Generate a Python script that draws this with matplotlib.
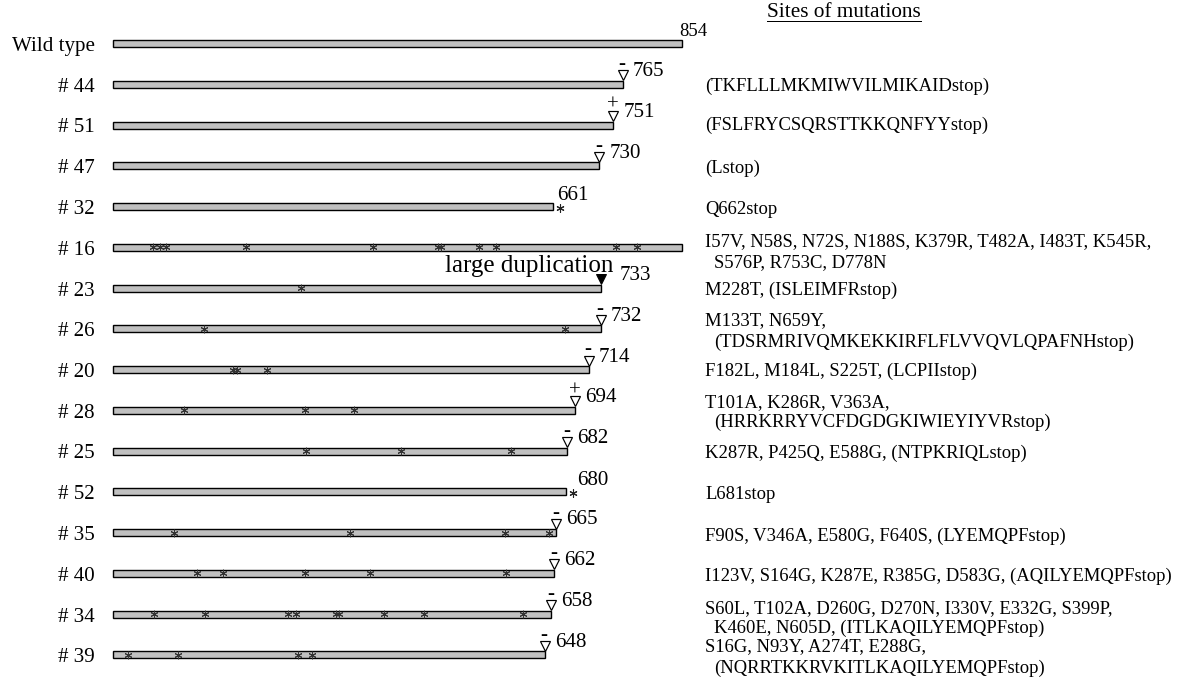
import matplotlib.pyplot as plt
from matplotlib.transforms import offset_copy

plt.rcParams['font.family'] = ['Liberation Serif', 'DejaVu Serif']

# clones, top to bottom
clones = ['Wild type', '# 44', '# 51', '# 47', '# 32', '# 16', '# 23', '# 26',
          '# 20', '# 28', '# 25', '# 52', '# 35', '# 40', '# 34', '# 39']
# protein length (residues)
lengths = [854, 765, 751, 730, 661, 854, 733, 732, 714, 694, 682, 680, 665, 662, 658, 648]
# how the end is marked: '' nothing, '-'/'+' frameshift, '*' stop, 'dup' duplication
end_marks = ['', '-', '+', '-', '*', '', 'dup', '-', '-', '+', '-', '*', '-', '-', '-', '-']
end_labels = ['854', '765', '751', '730', '661', '', '733', '732', '714', '694',
              '682', '680', '665', '662', '658', '648']
# asterisks on the bars, as drawn in the figure (residue position)
point_marks = [
    [], [], [], [], [],
    [60, 70, 80, 199, 390, 488, 492, 549, 575, 755, 787],
    [282],
    [136, 678],
    [180, 186, 231],
    [106, 288, 361],
    [289, 432, 597],
    [],
    [91, 356, 588, 655],
    [126, 165, 288, 386, 590],
    [61, 138, 262, 274, 334, 339, 406, 467, 615],
    [23, 97, 278, 298],
]
mutations = [
    '',
    '(TKFLLLMKMIWVILMIKAIDstop)',
    '(FSLFRYCSQRSTTKKQNFYYstop)',
    '(Lstop)',
    'Q662stop',
    'I57V, N58S, N72S, N188S, K379R, T482A, I483T, K545R,\nS576P, R753C, D778N',
    'M228T, (ISLEIMFRstop)',
    'M133T, N659Y,\n(TDSRMRIVQMKEKKIRFLFLVVQVLQPAFNHstop)',
    'F182L, M184L, S225T, (LCPIIstop)',
    'T101A, K286R, V363A,\n(HRRKRRYVCFDGDGKIWIEYIYVRstop)',
    'K287R, P425Q, E588G, (NTPKRIQLstop)',
    'L681stop',
    'F90S, V346A, E580G, F640S, (LYEMQPFstop)',
    'I123V, S164G, K287E, R385G, D583G, (AQILYEMQPFstop)',
    'S60L, T102A, D260G, D270N, I330V, E332G, S399P,\nK460E, N605D, (ITLKAQILYEMQPFstop)',
    'S16G, N93Y, A274T, E288G,\n(NQRRTKKRVKITLKAQILYEMQPFstop)',
]
# baseline of first text line below the bar centre (px) and line step
note_dy = [0, 7, 5, 7, 8, -1, 7, -4, 6, -3, 7, 7, 8, 8, -1, -4]
note_step = [21, 21, 21, 21, 21, 21, 21, 22, 21, 20, 21, 21, 21, 21, 20, 22]

DPI = 72
W, H = 1182, 678
fig = plt.figure(figsize=(W / DPI, H / DPI), dpi=DPI)
ax = fig.add_axes([0, 0, 1, 1])
ax.axis('off')

x0 = 113
px_per_res = (682 - x0) / 854
ax.set_xlim(-x0 / px_per_res, (W - x0) / px_per_res)
y0, row_px = 43.5, 40.75
ax.set_ylim((H - y0) / row_px, -y0 / row_px)

bar_h = 7 / row_px
full = max(lengths)

for i, name in enumerate(clones):
    L = lengths[i]
    ax.barh(i, L, height=bar_h, color='#c0c0c0', edgecolor='black', linewidth=1.4, zorder=2)
    ax.annotate(name, (0, i), xytext=(-18, -7.5), textcoords='offset points',
                ha='right', va='baseline', fontsize=21)

    pts = point_marks[i]
    if pts:
        ax.plot(pts, [i] * len(pts), ls='none', marker=(6, 2, 0), ms=7.5,
                mec='#333333', mew=1.0, zorder=3)

    mark = end_marks[i]
    if mark in ('-', '+'):
        tr = offset_copy(ax.transData, fig=fig, x=0, y=9, units='points')
        ax.plot([L], [i], marker='v', ms=10.5, mfc='white', mec='black', mew=1.2,
                transform=tr, zorder=4, clip_on=False)
        ax.annotate(mark, (L, i), xytext=(-0.5, 15), textcoords='offset points',
                    ha='center', va='baseline', fontsize=21)
        ax.annotate(end_labels[i], (L, i), xytext=(10, 8), textcoords='offset points',
                    ha='left', va='baseline', fontsize=21)
    elif mark == '*':
        tr = offset_copy(ax.transData, fig=fig, x=7, y=-1.5, units='points')
        ax.plot([L], [i], marker=(6, 2, 0), ms=8, mec='#222222', mew=1.1,
                transform=tr, zorder=4, clip_on=False)
        dx = 4 if i == 4 else 11
        ax.annotate(end_labels[i], (L, i), xytext=(dx, 7), textcoords='offset points',
                    ha='left', va='baseline', fontsize=21)
    elif mark == 'dup':
        tr = offset_copy(ax.transData, fig=fig, x=0, y=9, units='points')
        ax.plot([L], [i], marker='v', ms=10.5, mfc='black', mec='black',
                transform=tr, zorder=4, clip_on=False)
        ax.annotate(end_labels[i], (L, i), xytext=(18, 8), textcoords='offset points',
                    ha='left', va='baseline', fontsize=21)
        ax.annotate('large duplication', (L, i), xytext=(12, 16), textcoords='offset points',
                    ha='right', va='baseline', fontsize=25)
    elif end_labels[i]:
        ax.annotate(end_labels[i], (L, i), xytext=(-3, 7.5), textcoords='offset points',
                    ha='left', va='baseline', fontsize=18.7)

    # mutation list on the right
    if mutations[i]:
        for k, line in enumerate(mutations[i].split('\n')):
            ax.annotate(line, (full, i),
                        xytext=(23 + (9 if k else 0), -note_dy[i] - note_step[i] * k),
                        textcoords='offset points', ha='left', va='baseline', fontsize=18.6)

title = fig.text(844 / W, 1 - 17 / H, 'Sites of mutations', ha='center', va='baseline',
                 fontsize=21.3)
fig.canvas.draw()
bb = title.get_window_extent()
base_y = 1 - 17 / H
fig.add_artist(plt.Line2D([bb.x0 / W, bb.x1 / W], [base_y - 3.5 / H, base_y - 3.5 / H],
                          color='black', linewidth=1.0, transform=fig.transFigure))

fig.savefig('out.png', dpi=DPI)
